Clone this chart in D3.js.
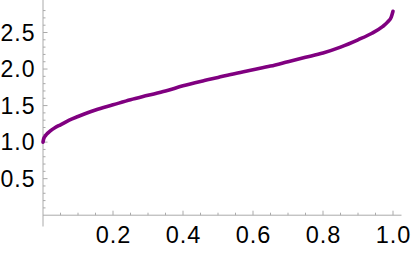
<!DOCTYPE html>
<html><head><meta charset="utf-8">
<script src="https://cdn.jsdelivr.net/npm/d3@7"></script>
<style>html,body{margin:0;padding:0;background:#fff;}svg{display:block;}</style>
</head><body>
<script>
const xVals = [0, 0.002, 0.005, 0.01, 0.02, 0.035, 0.05, 0.075, 0.1, 0.15, 0.2, 0.25, 0.3, 0.35, 0.4, 0.45, 0.5, 0.55, 0.6, 0.65, 0.7, 0.75, 0.8, 0.85, 0.9, 0.94, 0.97, 0.985, 0.995, 1.0];
const yVals = [1.0, 1.047, 1.075, 1.106, 1.15, 1.20, 1.237, 1.30, 1.35, 1.44, 1.51, 1.58, 1.64, 1.70, 1.77, 1.83, 1.885, 1.94, 1.99, 2.04, 2.10, 2.16, 2.22, 2.30, 2.40, 2.49, 2.58, 2.645, 2.71, 2.79];
const xTickLabels = [0.2, 0.4, 0.6, 0.8, 1.0];
const yTickLabels = [0.5, 1.0, 1.5, 2.0, 2.5];

const W = 417, H = 255;
const svg = d3.select("body").append("svg").attr("width", W).attr("height", H);

const x = d3.scaleLinear().domain([0, 1]).range([43, 393]);
const y = d3.scaleLinear().domain([0, 2.5]).range([215.2, 32.5]);

const axisColor = "#aaaaaa";
const font = "'Liberation Sans', Arial, sans-serif";

svg.append("line").attr("x1", x(0)).attr("x2", 401.5).attr("y1", y(0)).attr("y2", y(0))
  .attr("stroke", axisColor).attr("stroke-width", 1);
svg.append("line").attr("x1", x(0)).attr("x2", x(0)).attr("y1", 0).attr("y2", 226.5)
  .attr("stroke", axisColor).attr("stroke-width", 1);

const xMinor = d3.range(1, 21).map(i => i * 0.05);
svg.append("g").selectAll("line").data(xMinor).join("line")
  .attr("x1", d => x(d)).attr("x2", d => x(d))
  .attr("y1", y(0)).attr("y2", (d, i) => y(0) - ((i + 1) % 4 === 0 ? 4.5 : 2.5))
  .attr("stroke", axisColor).attr("stroke-width", 1);
const yMinor = d3.range(1, 29).map(i => i * 0.1);
svg.append("g").selectAll("line").data(yMinor).join("line")
  .attr("y1", d => y(d)).attr("y2", d => y(d))
  .attr("x1", x(0)).attr("x2", (d, i) => x(0) + ((i + 1) % 5 === 0 ? 4.5 : 2.5))
  .attr("stroke", axisColor).attr("stroke-width", 1);

svg.append("g").selectAll("text").data(xTickLabels).join("text")
  .attr("x", d => x(d) + 0.5).attr("y", 243)
  .attr("text-anchor", "middle")
  .style("font-family", font).style("font-size", "23.5px").style("letter-spacing", "1px").attr("fill", "#000")
  .text(d => d.toFixed(1));
svg.append("g").selectAll("text").data(yTickLabels).join("text")
  .attr("x", 35.5).attr("y", d => y(d)).attr("dy", "0.36em")
  .attr("text-anchor", "end")
  .style("font-family", font).style("font-size", "23px").style("letter-spacing", "1px").attr("fill", "#000")
  .text(d => d.toFixed(1));

const pts = xVals.map((v, i) => [v, yVals[i]]);
const line = d3.line().x(d => x(d[0])).y(d => y(d[1])).curve(d3.curveMonotoneX);
svg.append("path").datum(pts).attr("d", line)
  .attr("fill", "none").attr("stroke", "#800080").attr("stroke-width", 3.6)
  .attr("stroke-linecap", "round").attr("stroke-linejoin", "round");
</script>
</body></html>
